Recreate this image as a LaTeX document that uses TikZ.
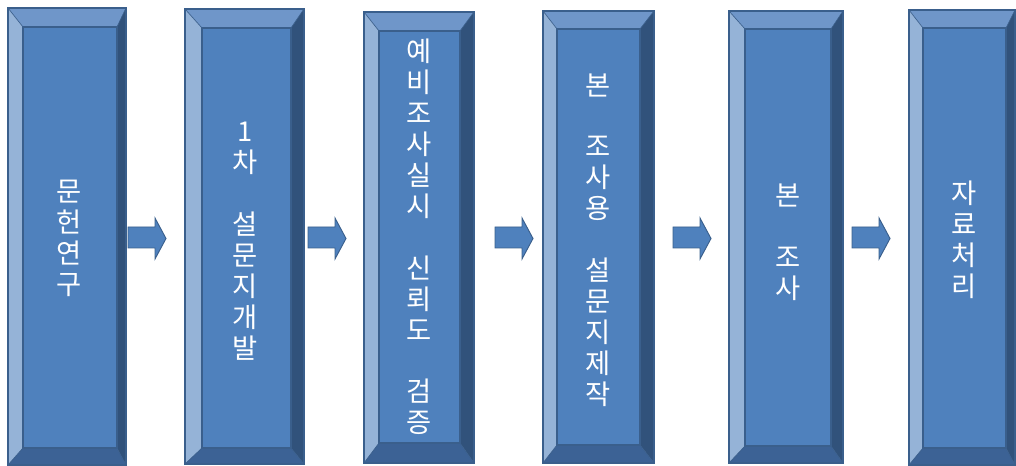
\documentclass[tikz,border=0pt]{standalone}
\usepackage{fontspec}
\newfontfamily\kr{Noto Sans CJK KR}
\definecolor{facec}{HTML}{4F81BD}
\definecolor{topc}{HTML}{6F96C9}
\definecolor{leftc}{HTML}{95B3D7}
\definecolor{rightc}{HTML}{31527B}
\definecolor{botc}{HTML}{3C6295}
\definecolor{edgec}{HTML}{3A5F8C}
\tikzset{
  bevedge/.style={draw=edgec, line width=0.8pt, line join=miter},
  bevthin/.style={draw=edgec, line width=0.5pt},
  label/.style={font=\kr\fontsize{20.5}{23.2}\selectfont, text=white, align=center, inner sep=0pt},
  blockarrow/.style={fill=facec, draw=edgec, line width=0.7pt, line join=miter}
}
% #1 x1, #2 y1, #3 x2, #4 y2, #5 left, #6 top, #7 right, #8 bottom
\newcommand\bevbox[8]{%
  \fill[topc] (#1,#2) -- (#3,#2) -- (#3-#7,#2+#6) -- (#1+#5,#2+#6) -- cycle;
  \fill[leftc] (#1,#2) -- (#1+#5,#2+#6) -- (#1+#5,#4-#8) -- (#1,#4) -- cycle;
  \fill[rightc] (#3,#2) -- (#3,#4) -- (#3-#7,#4-#8) -- (#3-#7,#2+#6) -- cycle;
  \fill[botc] (#1,#4) -- (#3,#4) -- (#3-#7,#4-#8) -- (#1+#5,#4-#8) -- cycle;
  \fill[facec] (#1+#5,#2+#6) rectangle (#3-#7,#4-#8);
  \draw[bevthin] (#1,#2) -- (#1+#5,#2+#6) (#3,#2) -- (#3-#7,#2+#6)
                 (#1,#4) -- (#1+#5,#4-#8) (#3,#4) -- (#3-#7,#4-#8);
  \draw[bevedge] (#1+#5,#2+#6) rectangle (#3-#7,#4-#8);
  \draw[bevedge] (#1,#2) rectangle (#3,#4);
}
% block arrow starting at x = #1
\newcommand\barrow[1]{%
  \path[blockarrow] (#1,227) -- (#1+27,227) -- (#1+27,218) -- (#1+38,238.5)
    -- (#1+27,259) -- (#1+27,248) -- (#1,248) -- cycle;
}
\begin{document}
\begin{tikzpicture}[x=0.75pt,y=-0.75pt]
\useasboundingbox (0,0) rectangle (1016,466);
% boxes
\bevbox{8}{8}{126}{465}{15}{19}{9}{17}
\bevbox{185}{9}{304}{464}{17}{19}{13}{16}
\bevbox{364}{12}{474}{463}{15}{19}{14}{20}
\bevbox{543}{11}{654}{463}{14}{18}{14}{18}
\bevbox{729}{11}{843}{463}{16}{18}{12}{17}
\bevbox{909}{10}{1015}{465}{14}{18}{9}{17}
% arrows
\barrow{128}
\barrow{308}
\barrow{495}
\barrow{673}
\barrow{852}
% labels
\node[label] (t1) at (69,238) {문\\헌\\연\\구};
\node[label] (t2) at (245,241) {1\\차\\~\\설\\문\\지\\개\\발};
\node[label] (t3) at (419,237) {예\\비\\조\\사\\실\\시\\~\\신\\뢰\\도\\~\\검\\증};
\node[label] (t4) at (598,240) {본\\~\\조\\사\\용\\~\\설\\문\\지\\제\\작};
\node[label] (t5) at (788,242) {본\\~\\조\\사};
\node[label] (t6) at (964,240) {자\\료\\처\\리};
\end{tikzpicture}
\end{document}
